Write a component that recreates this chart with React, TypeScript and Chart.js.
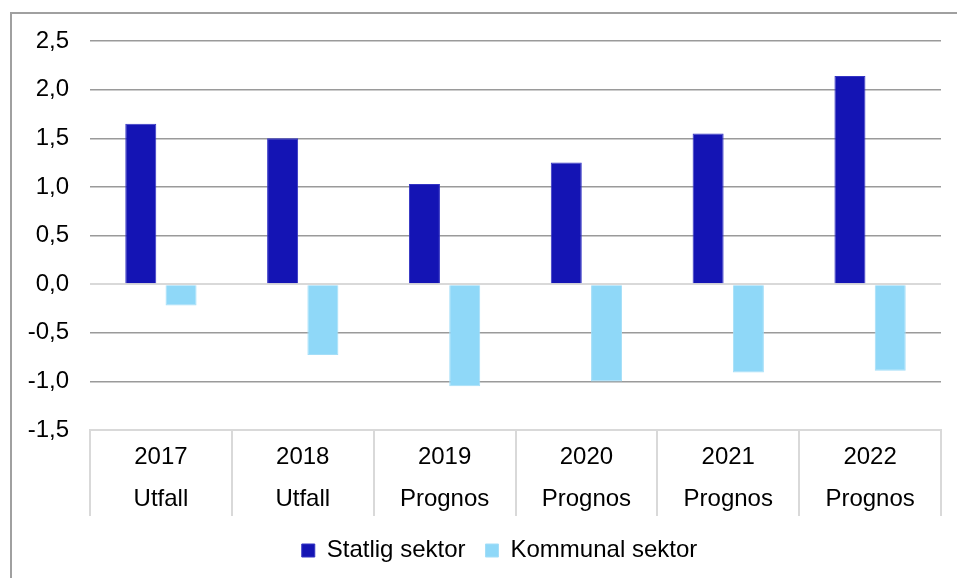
import React, { useEffect, useRef } from "react";
import { Chart, registerables } from "chart.js";

Chart.register(...registerables);

const years = ["2017", "2018", "2019", "2020", "2021", "2022"];
const kinds = ["Utfall", "Utfall", "Prognos", "Prognos", "Prognos", "Prognos"];
const statlig = [1.65, 1.5, 1.03, 1.25, 1.55, 2.14];
const kommunal = [-0.22, -0.73, -1.05, -1.0, -0.91, -0.89];
const seriesNames = ["Statlig sektor", "Kommunal sektor"];
const yMin = -1.5;
const yMax = 2.5;
const yStep = 0.5;

const FONT = "'Liberation Sans', Arial, sans-serif";

const legendShift = {
  id: "legendShift",
  afterLayout(chart: any) {
    if (chart.legend) {
      chart.legend.left = 58;
    }
  },
};

export default function App() {
  const ref = useRef<HTMLCanvasElement | null>(null);

  useEffect(() => {
    if (!ref.current) return;
    const chart = new Chart(ref.current, {
      type: "bar",
      data: {
        labels: years.map((y, i) => [y, kinds[i]]),
        datasets: [
          {
            label: seriesNames[0],
            data: statlig,
            backgroundColor: "#1414b4",
            borderColor: "#3434c4",
            borderWidth: 1,
          },
          {
            label: seriesNames[1],
            data: kommunal,
            backgroundColor: "#8fd8f8",
            borderColor: "#a4def8",
            borderWidth: 1,
          },
        ],
      },
      plugins: [legendShift],
      options: {
        responsive: false,
        animation: false,
        maintainAspectRatio: false,
        datasets: {
          bar: { categoryPercentage: 0.568, barPercentage: 0.77 },
        },
        layout: { padding: { left: 0, right: 16, top: 41, bottom: 5.5 } },
        plugins: {
          tooltip: { enabled: false },
          title: { display: false },
          legend: {
            position: "bottom",
            labels: {
              boxWidth: 13,
              boxHeight: 13,
              padding: 20,
              color: "#000",
              font: { size: 24, family: FONT },
            },
          },
        },
        scales: {
          x: {
            offset: true,
            border: { display: true, color: "#d9d9d9", width: 2 },
            grid: {
              offset: true,
              drawOnChartArea: false,
              drawTicks: true,
              tickLength: 86,
              color: "#d9d9d9",
              lineWidth: 2,
            },
            ticks: {
              padding: -79.5,
              color: "#000",
              maxRotation: 0,
              autoSkip: false,
              font: { size: 24, family: FONT, lineHeight: 42 / 24 },
            },
            afterFit: (s: any) => {
              s.height = 88.5;
            },
          },
          y: {
            min: yMin,
            max: yMax,
            border: { display: false },
            grid: {
              drawTicks: false,
              lineWidth: (ctx: any) => (ctx.tick && ctx.tick.value === 0 ? 2 : 1.5),
              color: (ctx: any) => {
                const v = ctx.tick ? ctx.tick.value : null;
                if (v === 0 || v === yMin) return "#d9d9d9";
                return "#9a9a9a";
              },
            },
            ticks: {
              stepSize: yStep,
              padding: 21,
              color: "#000",
              font: { size: 24, family: FONT },
              callback: (v: any) => Number(v).toFixed(1).replace(".", ","),
            },
            afterFit: (s: any) => {
              s.width = 90;
            },
          },
        },
      },
    });
    return () => chart.destroy();
  }, []);

  return (
    <div style={{ position: "absolute", left: 0, top: 0, width: 957, height: 578, background: "#fff" }}>
      <div
        style={{
          position: "absolute",
          left: 10,
          top: 12,
          right: -5,
          bottom: -5,
          borderLeft: "2px solid #a0a0a0",
          borderTop: "2px solid #a0a0a0",
        }}
      />
      <canvas
        ref={ref}
        width={957}
        height={578}
        style={{ position: "absolute", left: 0, top: 0, width: 957, height: 578 }}
      />
    </div>
  );
}
